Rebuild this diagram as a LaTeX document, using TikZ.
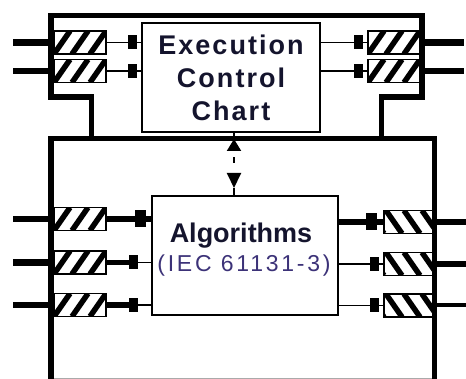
\documentclass[tikz,border=0pt]{standalone}
\usepackage{fontspec}
\setmainfont{Liberation Sans}
\usetikzlibrary{arrows.meta,calc}
\definecolor{darktext}{RGB}{20,20,45}
\definecolor{iectext}{RGB}{60,50,120}
\definecolor{bottomgray}{RGB}{170,170,170}
\begin{document}
\begin{tikzpicture}[x=1pt,y=-1pt,
  frame/.style={line width=5.5pt, line join=miter},
  thinline/.style={line width=1.6pt},
  thickline/.style={line width=5.5pt},
  extline/.style={line width=6.5pt},
  blockbox/.style={draw, line width=1.6pt, fill=white, inner sep=0pt},
  hatchr/.style={draw, line width=1.5pt, fill=white, inner sep=0pt,
    minimum width=52pt, minimum height=23pt,
    path picture={\foreach \k in {-2,...,4}{\draw[line width=5.5pt]
      ([xshift=\k*18pt]path picture bounding box.south west) -- ++(16pt,23pt);}}},
  hatchl/.style={draw, line width=1.5pt, fill=white, inner sep=0pt,
    minimum width=49pt, minimum height=23pt,
    path picture={\foreach \k in {-1,...,5}{\draw[line width=5.5pt]
      ([xshift=\k*18pt]path picture bounding box.south west) -- ++(-16pt,23pt);}}},
  tipsm/.style={-{Rectangle[length=9.5pt 0 0,width=14pt 0 0]}, shorten >=4pt},
  tipbig/.style={-{Rectangle[length=11pt 0 0,width=17pt 0 0]}, shorten >=5pt}
]
\useasboundingbox (0,0) rectangle (466,379);

% blocks
\node[blockbox, minimum width=178pt, minimum height=109pt, align=center,
  text=darktext,
  font=\fontsize{27}{33}\selectfont\bfseries\addfontfeature{LetterSpace=7.5}]
  (ecc) at (231,77.5) {Execution\\Control\\Chart};
\node[blockbox, minimum width=186pt, minimum height=119pt] (algo) at (245,255.5) {};
\node[anchor=base, inner sep=0pt, text=darktext,
  font=\fontsize{27}{27}\selectfont\bfseries] (algt) at (241,243) {Algorithms};
\node[anchor=base, inner sep=0pt, text=iectext,
  font=\fontsize{23}{23}\selectfont\addfontfeature{LetterSpace=12}] (iec) at (244,272) {(IEC 61131-3)};

% event inputs / outputs
\node[hatchr] (in1) at (80,42.5) {};
\node[hatchr] (in2) at (80,71) {};
\node[hatchr] (out1) at (394,42.5) {};
\node[hatchr] (out2) at (394,71) {};
% data inputs / outputs
\node[hatchr] (lin1) at (80,219) {};
\node[hatchr] (lin2) at (80,262.5) {};
\node[hatchr] (lin3) at (80,305) {};
\node[hatchl] (lout1) at (408.5,222) {};
\node[hatchl] (lout2) at (408.5,264) {};
\node[hatchl] (lout3) at (408.5,305.5) {};

% external lines
\coordinate (ein1) at (13,42.5);
\coordinate (ein2) at (13,71);
\coordinate (eout1) at (464,42.5);
\coordinate (eout2) at (464,71);
\coordinate (din1) at (13,219);
\coordinate (din2) at (13,262.5);
\coordinate (din3) at (13,305);
\coordinate (dout1) at (466,222);
\coordinate (dout2) at (466,264);
\coordinate (dout3) at (466,305.5);
\draw[extline] (ein1) -- (in1.west);
\draw[extline] (ein2) -- (in2.west);
\draw[extline] (out1.east) -- (eout1);
\draw[extline] (out2.east) -- (eout2);
\draw[extline] (din1) -- (lin1.west);
\draw[extline] (din2) -- (lin2.west);
\draw[extline] (din3) -- (lin3.west);
\draw[extline] (lout1.east) -- (dout1);
\draw[extline] (lout2.east) -- (dout2);
\draw[line width=4pt] (lout3.east) -- (dout3);

% event connections
\draw[thinline] (in1.east) -- (ecc.west |- in1.east);
\draw[thinline, tipsm] (in1.east) -- (ecc.west |- in1.east);
\draw[thinline] (in2.east) -- (ecc.west |- in2.east);
\draw[thinline, tipsm] (in2.east) -- (ecc.west |- in2.east);
\draw[thinline] (ecc.east |- out1.west) -- (out1.west);
\draw[thinline, tipsm] (ecc.east |- out1.west) -- (out1.west);
\draw[thinline] (ecc.east |- out2.west) -- (out2.west);
\draw[thinline, tipsm] (ecc.east |- out2.west) -- (out2.west);

% data connections
\draw[thickline] (lin1.east) -- (algo.west |- lin1.east);
\draw[thickline, tipbig] (lin1.east) -- (algo.west |- lin1.east);
\draw[thinline] (lin2.east) -- (algo.west |- lin2.east);
\draw[thickline, tipsm, shorten >=13pt] (lin2.east) -- (algo.west |- lin2.east);
\draw[thinline] (lin3.east) -- (algo.west |- lin3.east);
\draw[thickline, tipsm, shorten >=13pt] (lin3.east) -- (algo.west |- lin3.east);
\draw[thickline] (algo.east |- lout1.west) -- (lout1.west);
\draw[thickline, tipbig, shorten >=6pt] (algo.east |- lout1.west) -- (lout1.west);
\draw[thinline] (algo.east |- lout2.west) -- (lout2.west);
\draw[thinline, tipsm] (algo.east |- lout2.west) -- (lout2.west);
\draw[thinline] (algo.east |- lout3.west) -- (lout3.west);
\draw[thinline, tipsm] (algo.east |- lout3.west) -- (lout3.west);

% ECC <-> algorithms
\coordinate (d1) at (234,139);
\coordinate (d2) at (234,188);
\draw[thinline] (ecc.south -| d1) -- (d1);
\draw[line width=2pt, {Triangle[length=12pt 0 0,width=14pt 0 0]}-{Triangle[length=15pt 0 0,width=14pt 0 0]},
  dash pattern=on 0pt off 7pt on 6pt off 40pt] (d1) -- (d2);
\draw[thinline] (d2) -- (algo.north -| d2);

% function block frame
\draw[frame] (51,379) -- (51,138.5) -- (434.5,138.5) -- (434.5,379);
\draw[frame] (91.5,138.5) -- (91.5,97) -- (51,97) -- (51,15.5) -- (422,15.5)
  -- (422,97) -- (381.5,97) -- (381.5,138.5);
\draw[bottomgray, line width=1pt] (54,378.5) -- (432,378.5);
\end{tikzpicture}
\end{document}
